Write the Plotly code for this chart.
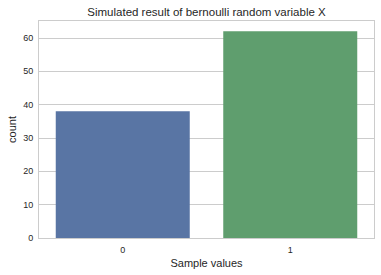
import plotly.graph_objects as go

categories = ["0", "1"]
counts = [38, 62]
colors = ["#5975a4", "#5f9e6e"]
y_ticks = [0, 10, 20, 30, 40, 50, 60]

fig = go.Figure()
fig.add_trace(go.Bar(
    x=[0, 1], y=counts, marker=dict(color=colors, line=dict(width=0)),
    width=0.8, showlegend=False,
))

font_family = "Liberation Sans, Arial, sans-serif"
fig.update_layout(
    width=381, height=275,
    margin=dict(l=39, r=7, t=21, b=37),
    paper_bgcolor="white", plot_bgcolor="white",
    font=dict(family=font_family, color="#262626", size=9),
    title=dict(text="Simulated result of bernoulli random variable X",
               x=(39 + 374) / 2 / 381, xanchor="center", y=1 - 12 / 275, yanchor="middle",
               font=dict(size=11.5, color="#262626")),
    xaxis=dict(range=[-0.5, 1.5], tickvals=[0, 1], ticktext=categories,
               showgrid=False, showline=True, linecolor="#cccccc", linewidth=1, mirror=True,
               ticks="outside", ticklen=3, tickcolor="rgba(0,0,0,0)", zeroline=False,
               title=dict(text="Sample values", font=dict(size=11), standoff=5),
               tickfont=dict(size=9)),
    yaxis=dict(range=[0, 65.1], tickvals=y_ticks,
               showgrid=True, gridcolor="#cccccc", gridwidth=1,
               showline=True, linecolor="#cccccc", linewidth=1, mirror=True,
               ticks="outside", ticklen=3, tickcolor="rgba(0,0,0,0)", zeroline=False,
               title=dict(text="count", font=dict(size=11), standoff=4),
               tickfont=dict(size=9)),
    bargap=0.2,
)

fig.write_html("out.html")
